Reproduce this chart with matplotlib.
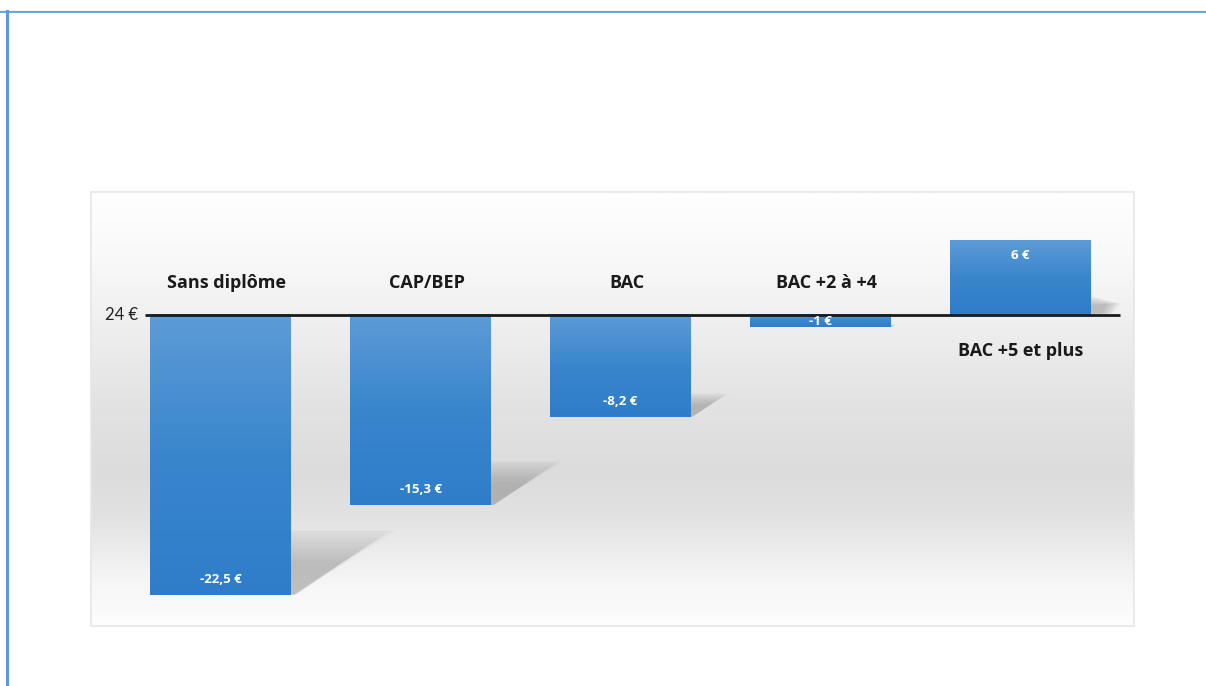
import matplotlib
matplotlib.use("Agg")
import matplotlib.pyplot as plt
import numpy as np
from matplotlib.colors import LinearSegmentedColormap
from matplotlib.lines import Line2D
from matplotlib.patches import Polygon

categories = ["Sans diplôme", "CAP/BEP", "BAC", "BAC +2 à +4", "BAC +5 et plus"]
values = [-22.5, -15.3, -8.2, -1.0, 6.0]
value_labels = ["-22,5 €", "-15,3 €", "-8,2 €", "-1 €", "6 €"]
baseline_label = "24 €"

W, H = 1206, 686
fig = plt.figure(figsize=(W / 100, H / 100), dpi=100)
fig.patch.set_facecolor("white")

# frame lines (document border)
fig.add_artist(Line2D([0, 1], [1 - 10.5 / H, 1 - 10.5 / H], color="#a9c9ea", lw=1.0, transform=fig.transFigure))
fig.add_artist(Line2D([0, 1], [1 - 12 / H, 1 - 12 / H], color="#5b9bd5", lw=1.2, transform=fig.transFigure))
fig.add_artist(Line2D([6.5 / W, 6.5 / W], [0, 1 - 11 / H], color="#5b9bd5", lw=2.2, transform=fig.transFigure))

# chart panel
px_l, px_r, px_t, px_b = 91, 1134, 192, 626
ax = fig.add_axes([px_l / W, 1 - px_b / H, (px_r - px_l) / W, (px_b - px_t) / H])
XL = (-0.6475, 4.5675)
YL = (-24.98, 9.88)
ax.set_xlim(*XL)
ax.set_ylim(*YL)
for s in ax.spines.values():
    s.set_color("#e6e6e6")
    s.set_linewidth(1.2)
ax.set_xticks([])
ax.set_yticks([])

# background gradient
bg = LinearSegmentedColormap.from_list(
    "bg", [(0.0, "#fefefe"), (0.15, "#f9f9f9"), (0.3, "#efefef"), (0.5, "#e2e2e2"),
           (0.65, "#dcdcdc"), (0.75, "#e2e2e2"), (0.9, "#f6f6f6"), (1.0, "#fdfdfd")])
grad = np.linspace(0, 1, 256).reshape(-1, 1)
ax.imshow(grad, aspect="auto", cmap=bg, extent=[XL[0], XL[1], YL[0], YL[1]],
          origin="upper", zorder=0)

x = np.arange(len(categories))
bw = 0.705
px_per_x = 200.0
px_per_y = 12.45

# soft shadows: many thin translucent layers
n_layers = 12
for xi, v in zip(x, values):
    xr = xi + bw / 2
    if v < 0:
        h = 0.23 * abs(v)
        dx = 1.55 * h * px_per_y / px_per_x
        for j in range(n_layers):
            k = 0.5 + 0.55 * j / (n_layers - 1)
            poly = Polygon([(xr, v + 0.05), (xr, v + h * min(k, 1.0)),
                            (xr + dx * k, v + h * min(k, 1.0)),
                            (xr + dx * 0.05 * k, v + 0.05)], closed=True, facecolor="#7a7a7a",
                           edgecolor="none", alpha=0.045, zorder=1)
            ax.add_patch(poly)
    else:
        h = 0.25 * v
        dx = 1.55 * h * px_per_y / px_per_x
        for j in range(n_layers):
            k = 0.5 + 0.55 * j / (n_layers - 1)
            poly = Polygon([(xr, 0.1), (xr, h * min(k, 1.0)), (xr + dx * k, h * 0.6),
                            (xr + dx * k * 0.7, 0.1)],
                           closed=True, facecolor="#7a7a7a", edgecolor="none", alpha=0.045, zorder=1)
            ax.add_patch(poly)

# bars with vertical gradient
bar_cmap = LinearSegmentedColormap.from_list("bar", ["#5d9bd6", "#3a86cd", "#2f7dc9"])
bars = ax.bar(x, values, width=bw, color="#4a8fd2", zorder=2)
for b in bars:
    x0, y0 = b.get_x(), b.get_y()
    w, hh = b.get_width(), b.get_height()
    ylo, yhi = min(y0, y0 + hh), max(y0, y0 + hh)
    ax.imshow(grad, aspect="auto", cmap=bar_cmap, extent=[x0, x0 + w, ylo, yhi],
              origin="upper", zorder=3)
ax.set_xlim(*XL)
ax.set_ylim(*YL)

# baseline
ax.plot([-0.3775, 4.4975], [0, 0], color="#1a1a1a", lw=2.0, zorder=4, solid_capstyle="butt")
ax.text(-0.41, 0, baseline_label, ha="right", va="center", fontsize=12,
        family=["Lato", "DejaVu Sans"], color="#222222")

# category labels
lab_font = dict(fontsize=13, fontweight="bold", family=["Open Sans", "DejaVu Sans"], color="#1a1a1a")
for xi, v, c in zip(x, values, categories):
    if v < 0:
        ax.text(xi + 0.03, 2.55, c, ha="center", va="center", zorder=5, **lab_font)
    else:
        ax.text(xi, -2.9, c, ha="center", va="center", zorder=5, **lab_font)

# value labels
for xi, v, lab in zip(x, values, value_labels):
    if abs(v) < 2:
        yy = v / 2
    elif v < 0:
        yy = v + 1.25
    else:
        yy = v - 1.25
    ax.text(xi, yy, lab, ha="center", va="center", fontsize=9.5, fontweight="bold",
            family=["Open Sans", "DejaVu Sans"], color="white", zorder=6)

fig.savefig("out.png", dpi=100, facecolor="white")
